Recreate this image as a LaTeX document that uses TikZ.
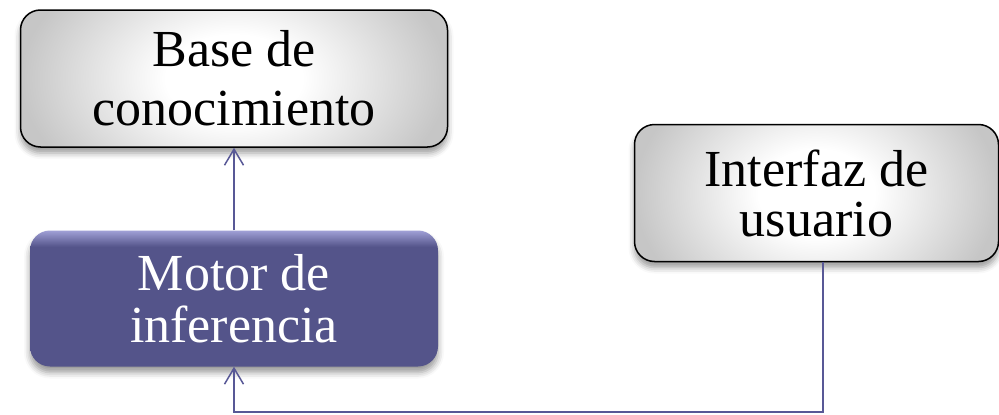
\documentclass[tikz,border=0pt]{standalone}
\usepackage{fontspec}
\setmainfont{Liberation Serif}
\usetikzlibrary{arrows.meta,shadows.blur}
\definecolor{conncol}{RGB}{88,88,150}
\definecolor{motorcol}{RGB}{84,84,138}
\definecolor{motortop}{RGB}{160,160,214}
\definecolor{grayedge}{RGB}{198,198,198}
\pgfdeclareverticalshading{motorshade}{100bp}{color(0bp)=(motorcol); color(25bp)=(motorcol); color(69bp)=(motorcol); color(75bp)=(motortop); color(100bp)=(motortop)}
\pgfdeclareradialshading{grayshade}{\pgfpoint{0bp}{0bp}}{color(0bp)=(white); color(8bp)=(white); color(25bp)=(grayedge); color(50bp)=(grayedge)}
\tikzset{
  graybox/.style 2 args={draw=black, line width=1.5pt, rounded corners=20pt,
    fill=white, minimum width=#1, minimum height=#2, align=center,
    path picture={\shade[shading=grayshade, sharp corners] ([shift={(-#1/2,-#2)}]path picture bounding box.center) rectangle ([shift={(#1/2,#2)}]path picture bounding box.center);},
    blur shadow={shadow xshift=0pt, shadow yshift=-6pt, shadow blur radius=6pt, shadow opacity=40}},
  motorbox/.style={rounded corners=20pt, shading=motorshade, align=center, text=white,
    blur shadow={shadow xshift=0pt, shadow yshift=-6pt, shadow blur radius=6pt, shadow opacity=40}},
  conn/.style={draw=conncol, line width=1.5pt},
  tip/.style={-{Straight Barb[length=16pt,width=19pt,line width=1.5pt]}}
}
\begin{document}
\begin{tikzpicture}[x=1pt,y=-1pt]
\useasboundingbox (0,0) rectangle (999,415);
\node[graybox={427pt}{137pt}, font=\fontsize{52}{59}\selectfont] (base) at (234,78.5) {Base de\\conocimiento};
\node[motorbox, minimum width=408pt, minimum height=136pt, font=\fontsize{52}{52}\selectfont] (motor) at (234,298.5) {Motor de\\inferencia};
\node[graybox={364pt}{137pt}, font=\fontsize{52}{50}\selectfont] (iface) at (816.5,193) {Interfaz de\\usuario};
\coordinate (c1) at (823,412);
\draw[conn, tip] (motor.north) -- (base.south);
\draw[conn, tip] (iface.south -| c1) -- (c1) -| (motor.south);
\end{tikzpicture}
\end{document}
